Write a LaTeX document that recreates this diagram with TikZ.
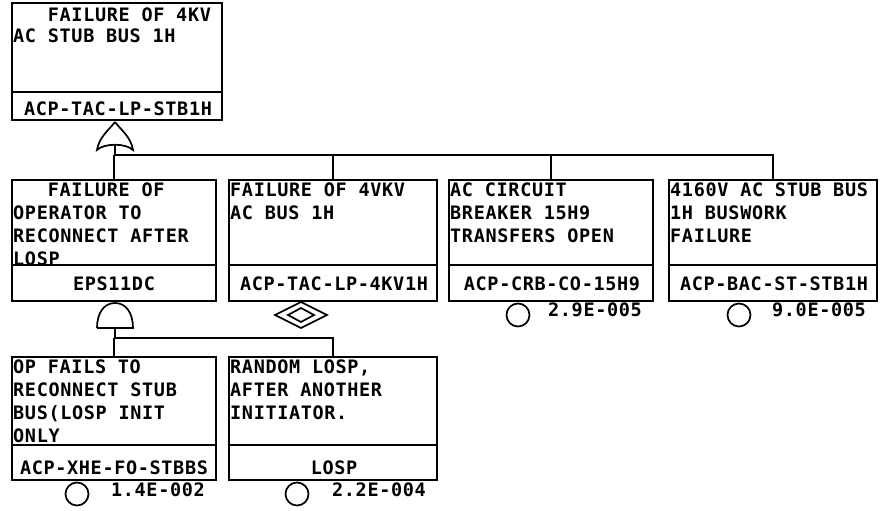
\documentclass[tikz,border=0pt]{standalone}
\usepackage{fontspec}
\newfontfamily\ftfont[LetterSpace=3.5]{DejaVu Sans Mono}
\begin{document}
\begin{tikzpicture}[x=1pt,y=-1pt,
  ln/.style={line width=1.7pt},
  fbox/.style={draw, line width=1.7pt, anchor=north west, inner sep=0, outer sep=0},
  txt/.style={font=\ftfont\bfseries\fontsize{18.5}{21}\selectfont, inner sep=0},
  lt/.style={txt, anchor=base west},
  pr/.style={txt, anchor=base east},
  evt/.style={draw, circle, line width=1.7pt, minimum size=23pt, inner sep=0}]
\useasboundingbox (0,0) rectangle (887,511);

% ---------- top event ----------
\node[fbox, minimum width=210pt, minimum height=117pt] (top) at (12,3) {};
\draw[ln] (12,92) -- (222,92);
\node[lt] (top1) at (13,22) {\hphantom{FAI}FAILURE OF 4KV};
\node[lt] (top2) at (13,43) {AC STUB BUS 1H};
\node[txt, anchor=base] (topid) at (118,116) {ACP-TAC-LP-STB1H};

% OR gate
\coordinate (org) at (115,145);
\draw[ln] (115,122) .. controls (121,130) and (131,137) .. (133,150)
  .. controls (126,143) and (104,143) .. (97,150)
  .. controls (99,137) and (109,130) .. (115,122);
\coordinate (bus1) at (115,155);

% ---------- second row ----------
\node[fbox, minimum width=204pt, minimum height=121pt] (b1) at (12,180) {};
\node[fbox, minimum width=208pt, minimum height=121pt] (b2) at (229,180) {};
\node[fbox, minimum width=204pt, minimum height=121pt] (b3) at (449,180) {};
\node[fbox, minimum width=208pt, minimum height=121pt] (b4) at (669,180) {};
\draw[ln] (12,265) -- (216,265);
\draw[ln] (229,265) -- (437,265);
\draw[ln] (449,265) -- (653,265);
\draw[ln] (669,265) -- (877,265);

\draw[ln] (org) -- (bus1) -| (b4.north);
\draw[ln] (b1.north) -- (b1.north |- bus1);
\draw[ln] (b2.north) -- (b2.north |- bus1);
\draw[ln] (b3.north) -- (b3.north |- bus1);

\node[lt] (b1a) at (13,196) {\hphantom{FAI}FAILURE OF};
\node[lt] (b1b) at (13,219) {OPERATOR TO};
\node[lt] (b1c) at (13,242) {RECONNECT AFTER};
\node[lt] (b1d) at (13,265) {LOSP};
\node[txt, anchor=base] (b1id) at (114,290) {EPS11DC};

\node[lt] (b2a) at (230,196) {FAILURE OF 4VKV};
\node[lt] (b2b) at (230,219) {AC BUS 1H};
\node[txt, anchor=base] (b2id) at (334,290) {ACP-TAC-LP-4KV1H};

\node[lt] (b3a) at (450,196) {AC CIRCUIT};
\node[lt] (b3b) at (450,219) {BREAKER 15H9};
\node[lt] (b3c) at (450,242) {TRANSFERS OPEN};
\node[txt, anchor=base] (b3id) at (552,290) {ACP-CRB-CO-15H9};

\node[lt] (b4a) at (670,196) {4160V AC STUB BUS};
\node[lt] (b4b) at (670,219) {1H BUSWORK};
\node[lt] (b4c) at (670,242) {FAILURE};
\node[txt, anchor=base] (b4id) at (774,290) {ACP-BAC-ST-STB1H};

% undeveloped (double diamond)
\draw[ln] (275,315) -- (301,302) -- (327,315) -- (301,328) -- cycle;
\draw[ln] (288,315) -- (301,308) -- (314,315) -- (301,322) -- cycle;

% basic events row 2
\node[evt] (e3) at (518,315) {};
\node[pr] (p3) at (642,316) {2.9E-005};
\node[evt] (e4) at (739,315) {};
\node[pr] (p4) at (866,316) {9.0E-005};

% AND gate
\draw[ln] (97,328) -- (133,328) .. controls (133,313) and (126,303) .. (115,303)
  .. controls (104,303) and (97,313) .. (97,328);
\coordinate (andg) at (115,328);
\coordinate (bus2) at (115,338);

% ---------- third row ----------
\node[fbox, minimum width=204pt, minimum height=123pt] (c1) at (12,357) {};
\node[fbox, minimum width=208pt, minimum height=123pt] (c2) at (229,357) {};
\draw[ln] (12,445) -- (216,445);
\draw[ln] (229,445) -- (437,445);

\draw[ln] (andg) -- (bus2) -| (c2.north);
\draw[ln] (c1.north) -- (c1.north |- bus2);

\node[lt] (c1a) at (13,373) {OP FAILS TO};
\node[lt] (c1b) at (13,396) {RECONNECT STUB};
\node[lt] (c1c) at (13,419) {BUS(LOSP INIT};
\node[lt] (c1d) at (13,442) {ONLY};
\node[txt, anchor=base] (c1id) at (114,474) {ACP-XHE-FO-STBBS};

\node[lt] (c2a) at (230,373) {RANDOM LOSP,};
\node[lt] (c2b) at (230,396) {AFTER ANOTHER};
\node[lt] (c2c) at (230,419) {INITIATOR.};
\node[txt, anchor=base] (c2id) at (334,474) {LOSP};

\node[evt] (e5) at (77,494) {};
\node[pr] (p5) at (205,496) {1.4E-002};
\node[evt] (e6) at (297,494) {};
\node[pr] (p6) at (426,496) {2.2E-004};
\end{tikzpicture}
\end{document}
